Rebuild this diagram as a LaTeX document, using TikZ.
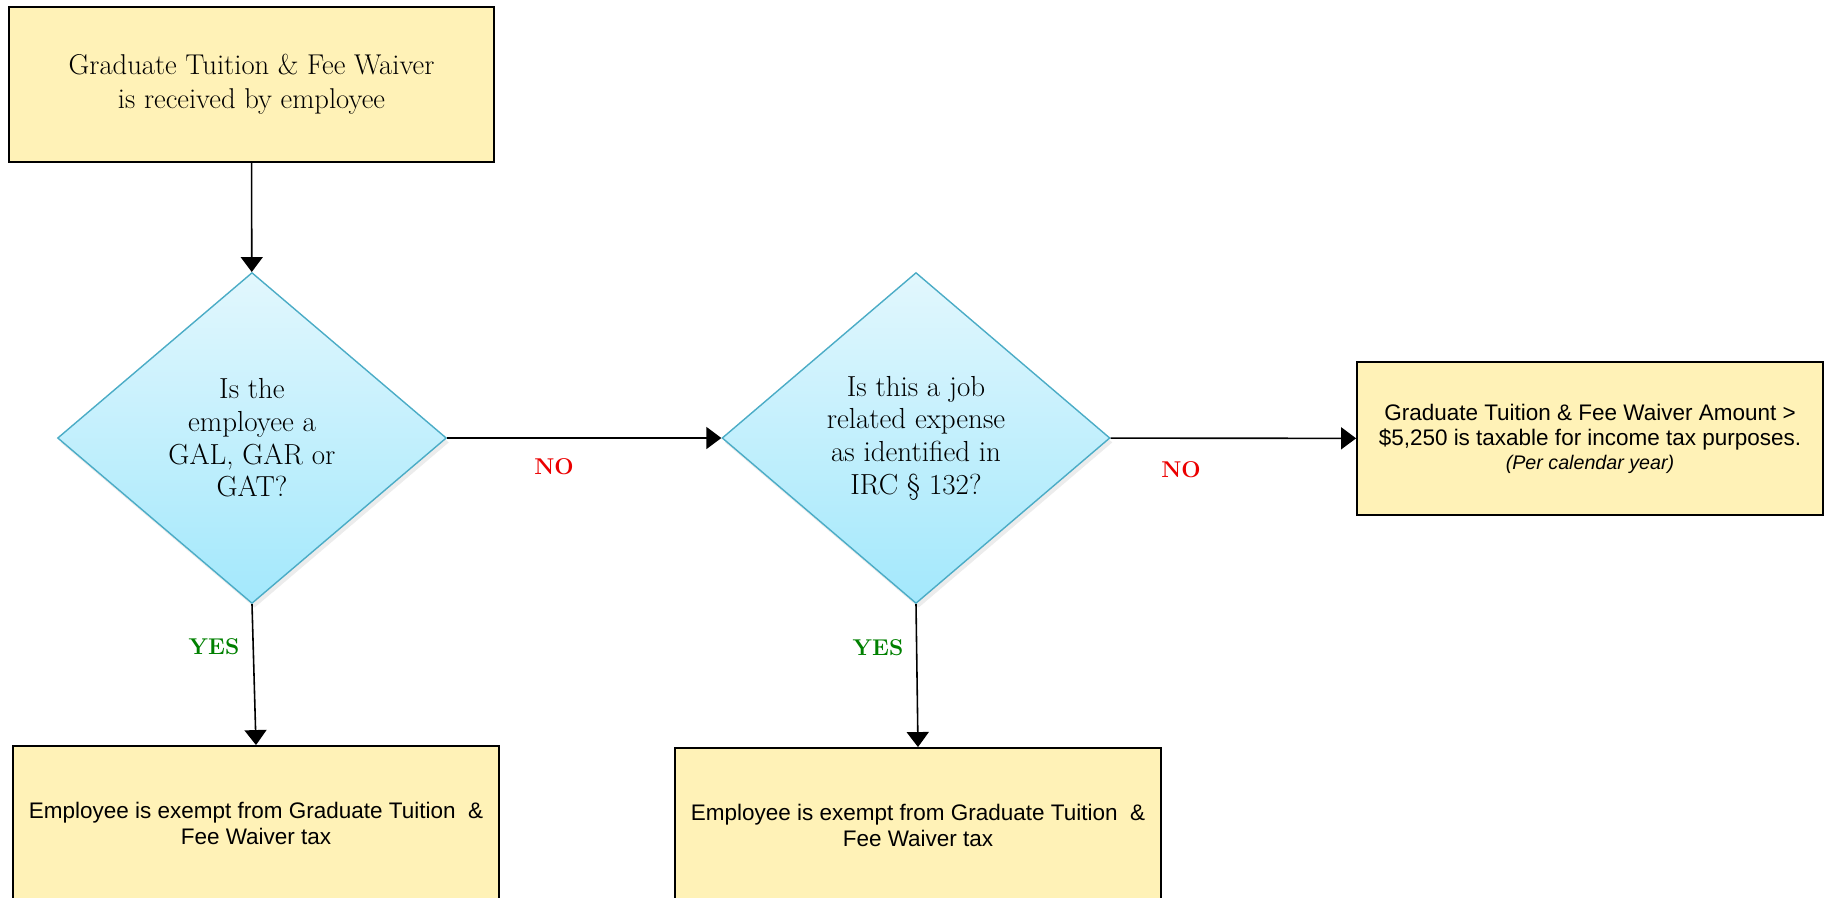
\documentclass[tikz,border=0pt]{standalone}
\usepackage{fontspec}
\newfontfamily\boxfont{Liberation Sans}
\usetikzlibrary{shapes.geometric,arrows.meta,shadows}
\definecolor{boxYellow}{RGB}{255,242,183}
\definecolor{diaTop}{RGB}{226,247,253}
\definecolor{diaBottom}{RGB}{163,232,252}
\definecolor{diaLine}{RGB}{75,172,198}
\definecolor{answerNo}{RGB}{235,0,0}
\definecolor{answerYes}{RGB}{0,128,0}
\newcommand\colorBox{boxYellow}
\newcommand\colorQuestion{diaLine}
\newcommand\colorNo{answerNo}
\newcommand\colorYes{answerYes}
\newcommand\serifText{\fontsize{16.3}{19.3}\selectfont}
\newcommand\questionText{\fontsize{16.5}{18.6}\selectfont}
\newcommand\sansText{\boxfont\fontsize{12.8}{14.5}\selectfont}

\begin{document}
\begin{tikzpicture}[x=0.02cm, y=-0.02cm,
	yellowbox/.style={rectangle, draw=black, line width=1.1pt, fill=\colorBox, align=center},
	question/.style={diamond, draw=\colorQuestion, line width=0.8pt, top color=diaTop, bottom color=diaBottom,
		drop shadow={opacity=0.15, shadow xshift=1.5pt, shadow yshift=-2.5pt},
		align=center, inner sep=0pt, font=\questionText},
	flowline/.style={line width=0.9pt, -{Triangle[width=0.44cm, length=0.3cm]}},
	answer/.style={font=\fontsize{13}{15}\selectfont\bfseries}
	]
		\useasboundingbox (0,0) rectangle (1825,897);
		
		\node[yellowbox, minimum width=9.7cm, minimum height=3.1cm, font=\serifText] (start) at (251.5,84.5)
			{Graduate Tuition \& Fee Waiver\\is received by employee};
		
		\node[question, minimum width=7.78cm, minimum height=6.62cm] (gal) at (252,438)
			{Is the\\employee a\\GAL, GAR or\\GAT?};
		\node[question, minimum width=7.76cm, minimum height=6.62cm] (irc) at (916,438)
			{Is this a job\\related expense\\as identified in\\IRC \S\ 132?};
		
		\node[yellowbox, minimum width=9.32cm, minimum height=3.06cm, font=\sansText] (taxable) at (1590,438.5)
			{Graduate Tuition \& Fee Waiver Amount >\\\$5,250 is taxable for income tax purposes.\\[-1pt]
			{\fontsize{11.2}{13}\selectfont\itshape (Per calendar year)}};
		
		\node[yellowbox, minimum width=9.72cm, minimum height=3.1cm, font=\sansText] (exemptGal) at (256,823.5)
			{Employee is exempt from Graduate Tuition\ \ \&\\Fee Waiver tax};
		\node[yellowbox, minimum width=9.72cm, minimum height=3.1cm, font=\sansText] (exemptIrc) at (918,825.5)
			{Employee is exempt from Graduate Tuition\ \ \&\\Fee Waiver tax};
		
		\draw[flowline] (start) to (gal);
		\draw[flowline] (gal) to (irc);
		\draw[flowline] (irc) to (taxable);
		\draw[flowline] (gal.south) to (exemptGal.north);
		\draw[flowline] (irc.south) to (exemptIrc.north);
		
		\node[answer, text=\colorNo] (noGal) at (554,467) {NO};
		\node[answer, text=\colorNo] (noIrc) at (1181,470) {NO};
		\node[answer, text=\colorYes] (yesGal) at (214,647) {YES};
		\node[answer, text=\colorYes] (yesIrc) at (878,648) {YES};
	\end{tikzpicture}
\end{document}
